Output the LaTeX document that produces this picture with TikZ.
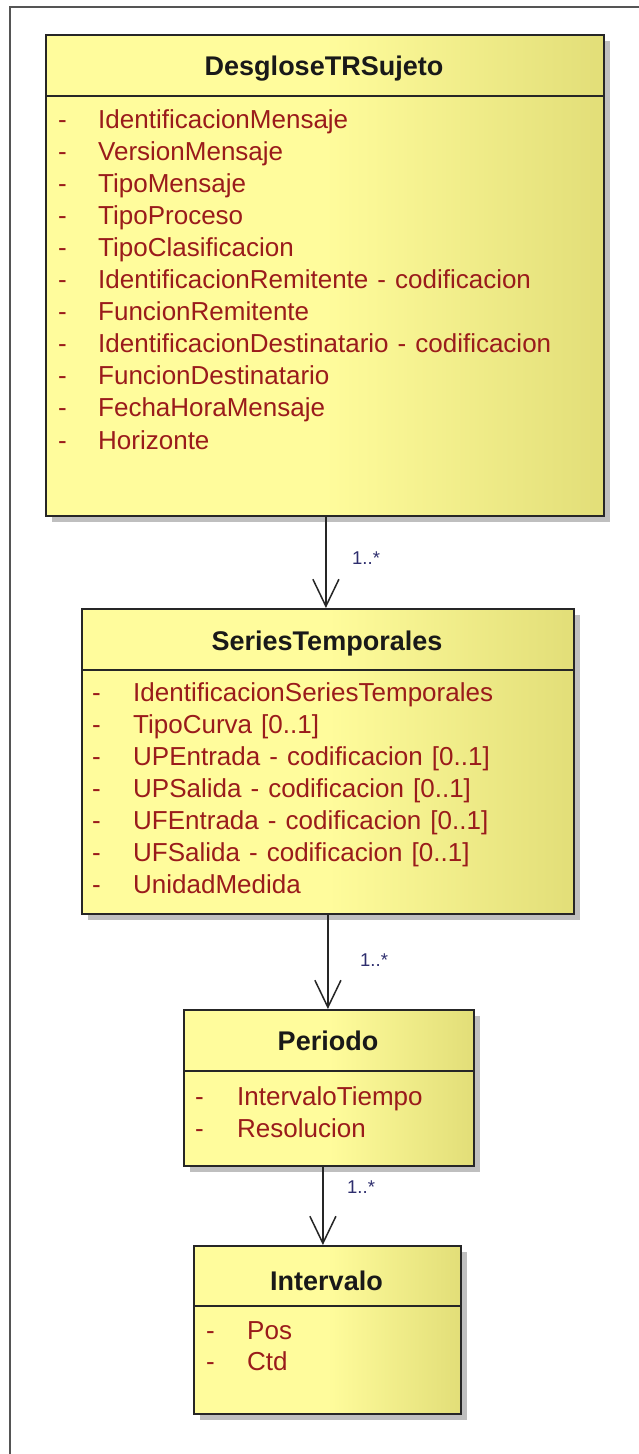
\documentclass[tikz,border=0pt]{standalone}
\usepackage{fontspec}
\setmainfont[WordSpace=1.25]{Liberation Sans}
\usetikzlibrary{arrows.meta,shadows,calc}
\definecolor{uL}{HTML}{FFFC9C}
\definecolor{uR}{HTML}{E2DE78}
\definecolor{attrc}{HTML}{9A1B1B}
\definecolor{multc}{HTML}{2E2E6E}
\definecolor{framec}{HTML}{555555}
\tikzset{
  umlbox/.style={draw=black!85, line width=1.8pt, left color=uL, right color=uR, middle color=uL,
    anchor=north west, inner sep=0pt,
    drop shadow={shadow xshift=6pt, shadow yshift=-6pt, fill=black!25, opacity=1, draw=none}},
  divider/.style={draw=black!85, line width=1.6pt},
  titletxt/.style={anchor=base, inner sep=0pt, font=\fontsize{27}{30}\selectfont\bfseries, text=black!90},
  attrtxt/.style={anchor=base west, inner sep=0pt, font=\fontsize{26}{30}\selectfont, text=attrc},
  multtxt/.style={anchor=west, inner sep=0pt, font=\fontsize{18.5}{22}\selectfont, text=multc},
  assoc/.style={draw=black!85, line width=1.8pt, -{Straight Barb[length=27pt,width=26pt,line width=1.5pt]}},
  framel/.style={draw=framec, line width=1.6pt}
}
\begin{document}
\begin{tikzpicture}[x=1pt,y=1pt]
\useasboundingbox[fill=white] (0,0) rectangle (638,-1454);
\draw[framel] (10,-1460) -- (10,-7) -- (645,-7);

% Box 1
\node[umlbox, minimum width=558pt, minimum height=481pt] (b1) at (45,-34) {};
\draw[divider] ([yshift=-62pt]b1.north west) -- ([yshift=-62pt]b1.north east);
\node[titletxt] (h1) at (324,-75) {DesgloseTRSujeto};
\foreach \t [count=\i from 0] in {IdentificacionMensaje, VersionMensaje, TipoMensaje, TipoProceso,
  TipoClasificacion, {IdentificacionRemitente - codificacion}, FuncionRemitente,
  {IdentificacionDestinatario - codificacion}, FuncionDestinatario, FechaHoraMensaje, Horizonte}{
  \node[attrtxt] (d1-\i) at (58,{-128-32.1*\i}) {-};
  \node[attrtxt] (t1-\i) at (98,{-128-32.1*\i}) {\t};
}

% Box 2
\node[umlbox, minimum width=492pt, minimum height=305pt] (b2) at (81,-608) {};
\draw[divider] ([yshift=-62pt]b2.north west) -- ([yshift=-62pt]b2.north east);
\node[titletxt] (h2) at (327,-650) {SeriesTemporales};
\foreach \t [count=\i from 0] in {IdentificacionSeriesTemporales, {TipoCurva [0..1]},
  {UPEntrada - codificacion [0..1]}, {UPSalida - codificacion [0..1]},
  {UFEntrada - codificacion [0..1]}, {UFSalida - codificacion [0..1]}, UnidadMedida}{
  \node[attrtxt] (d2-\i) at (92,{-701-32.1*\i}) {-};
  \node[attrtxt] (t2-\i) at (133,{-701-32.1*\i}) {\t};
}

% Box 3
\node[umlbox, minimum width=290pt, minimum height=156pt] (b3) at (183,-1009) {};
\draw[divider] ([yshift=-62pt]b3.north west) -- ([yshift=-62pt]b3.north east);
\node[titletxt] (h3) at (328,-1050) {Periodo};
\foreach \t [count=\i from 0] in {IntervaloTiempo, Resolucion}{
  \node[attrtxt] (d3-\i) at (195,{-1105-32*\i}) {-};
  \node[attrtxt] (t3-\i) at (237,{-1105-32*\i}) {\t};
}

% Box 4
\node[umlbox, minimum width=267pt, minimum height=168pt] (b4) at (193,-1245) {};
\draw[divider] ([yshift=-61pt]b4.north west) -- ([yshift=-61pt]b4.north east);
\node[titletxt] (h4) at (326.5,-1290) {Intervalo};
\foreach \t [count=\i from 0] in {Pos, Ctd}{
  \node[attrtxt] (d4-\i) at (206,{-1339-31*\i}) {-};
  \node[attrtxt] (t4-\i) at (247,{-1339-31*\i}) {\t};
}

% Associations
\draw[assoc] ([xshift=1pt]b1.south) -- ([xshift=1pt]b1.south |- b2.north);
\node[multtxt] (m1) at (352,-558) {1..*};
\draw[assoc] (b2.south) -- (b2.south |- b3.north);
\node[multtxt] (m2) at (360,-960) {1..*};
\draw[assoc] ([xshift=-6pt]b3.south) -- ([xshift=-6pt]b3.south |- b4.north);
\node[multtxt] (m3) at (347,-1187) {1..*};
\end{tikzpicture}
\end{document}
